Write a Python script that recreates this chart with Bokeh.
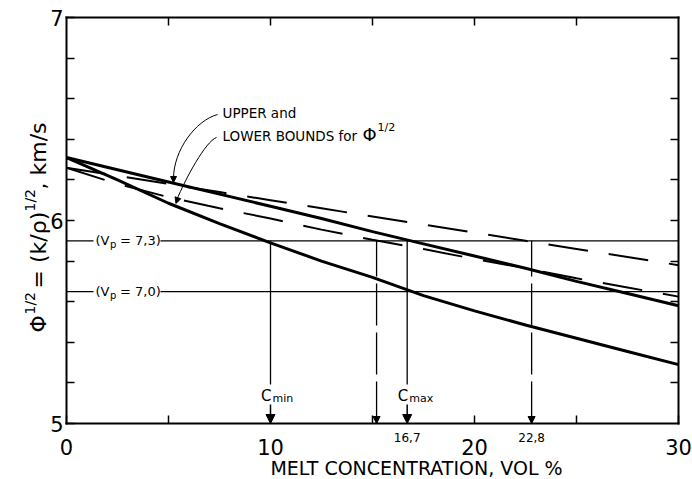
from bokeh.plotting import figure
from bokeh.models import Range1d, LinearAxis, FixedTicker, Label, Arrow, NormalHead, ColumnDataSource
from bokeh.embed import file_html
from bokeh.resources import INLINE
from bokeh.core.properties import value
import math

# ---------------- data ----------------
melt = [0, 2.5, 5, 7.5, 10, 12.5, 15, 17.5, 20, 22.5, 25, 27.5, 30]
lower_solid = [6.31, 6.20, 6.085, 5.985, 5.89, 5.80, 5.72, 5.63, 5.555, 5.485, 5.42, 5.355, 5.29]
upper_solid = [6.31, 6.25, 6.19, 6.13, 6.07, 6.01, 5.945, 5.885, 5.825, 5.765, 5.70, 5.64, 5.58]
upper_dashed = [6.26, 6.22, 6.18, 6.14, 6.10, 6.06, 6.02, 5.98, 5.94, 5.90, 5.86, 5.82, 5.78]
lower_dashed = [6.26, 6.18, 6.115, 6.06, 6.01, 5.955, 5.905, 5.86, 5.81, 5.765, 5.715, 5.67, 5.625]

vp_levels = [5.9, 5.65]
vp_values = ["7,3", "7,0"]

c_x = [10, 16.7]
c_sub = ["min", "max"]
dashed_x = [15.2, 22.8]
value_x = [16.7, 22.8]
value_text = ["16,7", "22,8"]

x_ticks = [0, 10, 20, 30]
x_minor = [5, 15, 25]
y_ticks = [5, 6, 7]
y_minor = [5.2, 5.4, 5.6, 5.8, 6.2, 6.4, 6.6, 6.8]

X_MIN, X_MAX = 0, 30
Y_MIN, Y_MAX = 5, 7

FONT = "DejaVu Sans"

# pixel helpers for annotation placement (data box: x 66..678, y 17..423)
def px2x(px):
    return (px - 66) / 20.4

def py2y(py):
    return 7 - (py - 17) / 203.0

W, H = 692, 479
p = figure(width=W, height=H, output_backend="svg", toolbar_location=None,
           x_range=Range1d(px2x(0), px2x(W)), y_range=Range1d(py2y(H), py2y(0)),
           x_axis_location=None, y_axis_location=None,
           min_border_left=0, min_border_right=0, min_border_top=0, min_border_bottom=0,
           background_fill_color="white", border_fill_color="white")
p.grid.visible = False
p.outline_line_color = None


def style(ax, size="21px"):
    ax.axis_line_width = 2
    ax.axis_line_cap = "square"
    ax.major_tick_in = 8
    ax.major_tick_out = 0
    ax.minor_tick_in = 8
    ax.minor_tick_out = 0
    ax.major_tick_line_width = 1.5
    ax.minor_tick_line_width = 1.5
    ax.major_label_text_font = FONT
    ax.major_label_text_color = "black"
    ax.major_label_text_font_size = size


xb = LinearAxis(ticker=FixedTicker(ticks=x_ticks, minor_ticks=x_minor),
                fixed_location=Y_MIN, bounds=(X_MIN, X_MAX))
style(xb)
xb.major_label_standoff = 15
p.add_layout(xb, "below")

xt = LinearAxis(ticker=FixedTicker(ticks=[], minor_ticks=sorted(x_minor + [10, 20])),
                fixed_location=Y_MAX, bounds=(X_MIN, X_MAX))
style(xt)
p.add_layout(xt, "above")

yl = LinearAxis(ticker=FixedTicker(ticks=y_ticks, minor_ticks=y_minor),
                fixed_location=X_MIN, bounds=(Y_MIN, Y_MAX))
style(yl)
yl.major_label_standoff = 3
p.add_layout(yl, "left")

yr = LinearAxis(ticker=FixedTicker(ticks=[], minor_ticks=sorted(y_minor + [6])),
                fixed_location=X_MAX, bounds=(Y_MIN, Y_MAX))
style(yr)
p.add_layout(yr, "right")

# ---------------- curves ----------------
p.line(melt, upper_solid, line_color="black", line_width=3)
p.line(melt, lower_solid, line_color="black", line_width=3)
p.line(melt, upper_dashed, line_color="black", line_width=2, line_dash="40 21")
p.line(melt, lower_dashed, line_color="black", line_width=2, line_dash="40 21")

# ---------------- Vp reference lines with labels ----------------
gap0, gap1 = px2x(93), px2x(160)
n = len(vp_levels)
p.segment(x0=[X_MIN] * n, x1=[gap0] * n, y0=vp_levels, y1=vp_levels, line_color="black", line_width=1.2)
p.segment(x0=[gap1] * n, x1=[X_MAX] * n, y0=vp_levels, y1=vp_levels, line_color="black", line_width=1.2)
lx = [px2x(95)] * n
p.text(x=lx, y=vp_levels, text=["(V"] * n, text_font=value(FONT),
       text_font_size="13px", text_baseline="middle", text_align="left", text_color="black")
p.text(x=lx, y=vp_levels, text=["p"] * n, text_font=value(FONT),
       text_font_size="10px", text_baseline="middle", text_align="left", text_color="black",
       x_offset=14.5, y_offset=4)
p.text(x=lx, y=vp_levels, text=["= " + v + ")" for v in vp_values], text_font=value(FONT),
       text_font_size="13px", text_baseline="middle", text_align="left", text_color="black",
       x_offset=24.5)

# ---------------- C_min / C_max markers ----------------
m = len(c_x)
p.segment(x0=c_x, x1=c_x, y0=[vp_levels[0]] * m, y1=[py2y(384)] * m, line_color="black", line_width=1.3)
lab_y = [py2y(395)] * m
p.text(x=c_x, y=lab_y, text=["C"] * m, text_font=value(FONT), text_font_size="15px",
       text_baseline="middle", text_align="right", x_offset=1, text_color="black")
p.text(x=c_x, y=lab_y, text=c_sub, text_font=value(FONT), text_font_size="11px",
       text_baseline="middle", text_align="left", x_offset=2, y_offset=3, text_color="black")
csrc = ColumnDataSource(dict(x=c_x, ys=[py2y(404)] * m, ye=[Y_MIN] * m))
p.add_layout(Arrow(end=NormalHead(size=9, fill_color="black", line_color="black"),
                   x_start="x", y_start="ys", x_end="x", y_end="ye", source=csrc,
                   line_color="black", line_width=1.5))

# dashed verticals
k = len(dashed_x)
p.segment(x0=dashed_x, x1=dashed_x, y0=[Y_MIN] * k, y1=[vp_levels[0]] * k,
          line_color="black", line_width=1.3, line_dash="42 7")
dsrc = ColumnDataSource(dict(x=dashed_x, ys=[py2y(414)] * k, ye=[Y_MIN] * k))
p.add_layout(Arrow(end=NormalHead(size=7, fill_color="black", line_color="black"),
                   x_start="x", y_start="ys", x_end="x", y_end="ye", source=dsrc,
                   line_color="black", line_width=0.1, line_alpha=0))

p.text(x=value_x, y=[py2y(437)] * len(value_x), text=value_text, text_font=value(FONT),
       text_font_size="12px", text_align="center", text_baseline="middle", text_color="black")

# ---------------- annotation "UPPER and LOWER BOUNDS" ----------------
ax0 = px2x(222)
p.add_layout(Label(x=ax0, y=py2y(112), text="UPPER and", text_font=FONT, text_font_size="13.5px",
                   text_align="left", text_baseline="middle", text_color="black"))
p.add_layout(Label(x=ax0, y=py2y(135), text="LOWER BOUNDS for", text_font=FONT,
                   text_font_size="13.5px", text_align="left", text_baseline="middle", text_color="black"))
p.add_layout(Label(x=px2x(362), y=py2y(134), text="Φ", text_font=FONT,
                   text_font_size="18px", text_align="left", text_baseline="middle", text_color="black"))
p.add_layout(Label(x=px2x(377), y=py2y(127), text="1/2", text_font=FONT,
                   text_font_size="11px", text_align="left", text_baseline="middle", text_color="black"))

p.bezier(x0=[px2x(217), px2x(216)], y0=[py2y(114), py2y(137)],
         x1=[px2x(173), px2x(176)], y1=[py2y(178), py2y(200)],
         cx0=[px2x(195), px2x(205)], cy0=[py2y(120), py2y(141)],
         cx1=[px2x(173), px2x(185)], cy1=[py2y(150), py2y(178)],
         line_color="black", line_width=1)
asrc = ColumnDataSource(dict(xs=[px2x(173), px2x(177.5)], ys=[py2y(175), py2y(197)],
                             xe=[px2x(173), px2x(175.5)], ye=[py2y(182), py2y(203)]))
p.add_layout(Arrow(end=NormalHead(size=6, fill_color="black", line_color="black"),
                   x_start="xs", y_start="ys", x_end="xe", y_end="ye", source=asrc,
                   line_color="black", line_width=1))

# ---------------- axis titles ----------------
p.add_layout(Label(x=px2x(416), y=py2y(467), text="MELT CONCENTRATION, VOL %", text_font=FONT,
                   text_font_size="19px", text_align="center", text_baseline="middle",
                   text_color="black"))

# y title built from pieces, rotated (reads bottom to top)
main_x = px2x(38)
sup_x = px2x(29)
pieces = [
    ("Φ", main_x, 332, "22px"),
    ("1/2", sup_x, 314, "14px"),
    ("= (k/ρ)", main_x, 288, "22px"),
    ("1/2", sup_x, 211, "14px"),
    (", km/s", main_x, 189, "22px"),
]
for t, xx, pyy, fs in pieces:
    p.add_layout(Label(x=xx, y=py2y(pyy), text=t, angle=math.pi / 2, text_font=FONT,
                       text_font_size=fs, text_align="left", text_baseline="alphabetic",
                       text_color="black"))

open("out.html", "w").write(file_html(p, INLINE))
